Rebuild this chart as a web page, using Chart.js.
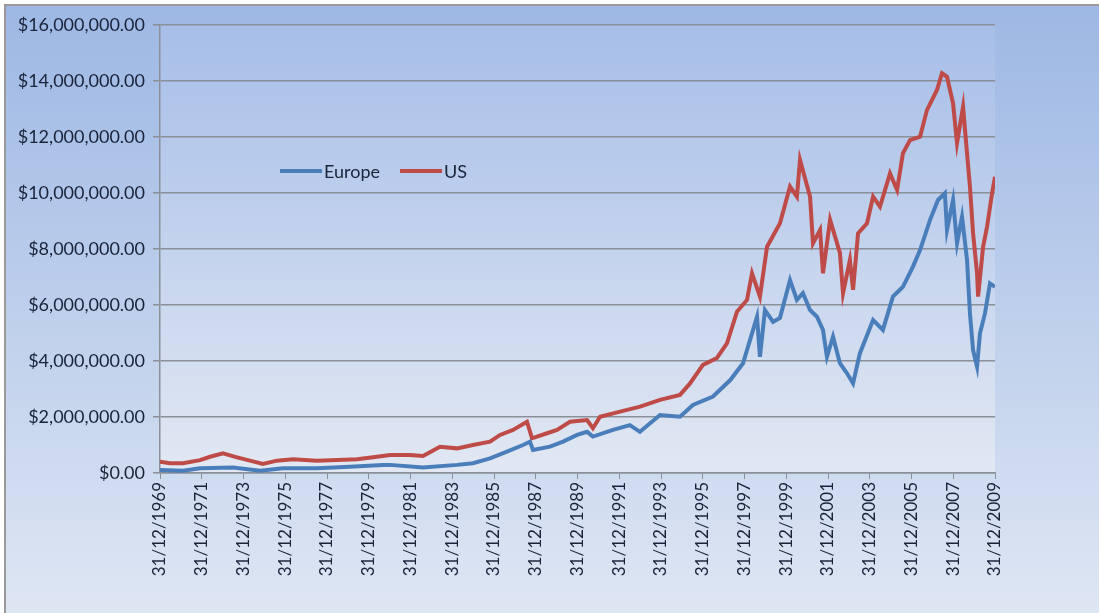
<!DOCTYPE html>
<html>
<head>
<meta charset="utf-8">
<script src="https://cdn.jsdelivr.net/npm/chart.js@4.4.1/dist/chart.umd.min.js"></script>
<style>
  html, body { margin: 0; padding: 0; background: #ffffff; overflow: hidden; }
  #frame {
    position: absolute; left: 4px; top: 4px;
    width: 1093px; height: 607px;
    border-left: 2px solid #9a9a9a; border-top: 2px solid #9a9a9a;
  }
</style>
</head>
<body>
<div id="frame"><canvas id="growthChart" width="1093" height="607"></canvas></div>
<script>
// values, in dollars; x is a decimal year
const usYears = [1970.00, 1970.48, 1971.10, 1971.92, 1972.40, 1973.02, 1973.69, 1974.31, 1974.93, 1975.60,
  1976.37, 1977.52, 1978.48, 1979.44, 1980.40, 1981.02, 1981.98, 1982.60, 1983.41, 1984.23,
  1984.99, 1985.81, 1986.29, 1986.91, 1987.58, 1987.82, 1988.54, 1989.02, 1989.64, 1990.46,
  1990.74, 1991.08, 1992.04, 1993.00, 1993.95, 1994.91, 1995.39, 1996.01, 1996.68, 1997.16,
  1997.64, 1998.12, 1998.36, 1998.74, 1999.08, 1999.70, 2000.18, 2000.51, 2000.66, 2001.14,
  2001.28, 2001.62, 2001.76, 2002.10, 2002.57, 2002.72, 2003.05, 2003.20, 2003.44, 2003.87,
  2004.16, 2004.49, 2004.97, 2005.31, 2005.59, 2005.93, 2006.41, 2006.74, 2007.22, 2007.46,
  2007.70, 2007.99, 2008.18, 2008.47, 2008.66, 2008.80, 2008.95, 2009.14, 2009.19, 2009.43,
  2009.62, 2009.86, 2010.00];
const usValues = [400000, 350000, 350000, 460000, 580000, 700000, 560000, 440000, 320000, 440000,
  490000, 440000, 460000, 490000, 580000, 640000, 640000, 610000, 940000, 880000,
  1000000, 1120000, 1360000, 1540000, 1830000, 1240000, 1420000, 1540000, 1830000, 1890000,
  1600000, 2010000, 2190000, 2370000, 2610000, 2790000, 3200000, 3860000, 4110000, 4630000,
  5760000, 6180000, 7130000, 6300000, 8080000, 8920000, 10230000, 9870000, 11180000, 9870000,
  8200000, 8680000, 7130000, 9040000, 7860000, 6420000, 7610000, 6540000, 8560000, 8920000,
  9870000, 9510000, 10700000, 10110000, 11420000, 11890000, 12010000, 12960000, 13680000, 14280000,
  14150000, 13200000, 11780000, 13080000, 11420000, 10230000, 8560000, 7130000, 6300000, 8080000,
  8800000, 9990000, 10580000];

const euYears = [1970.00, 1971.10, 1971.92, 1973.50, 1974.79, 1975.89, 1977.52, 1979.10, 1980.68, 1981.02,
  1982.60, 1984.23, 1984.99, 1985.81, 1986.62, 1987.39, 1987.72, 1987.87, 1988.68, 1989.31,
  1989.98, 1990.46, 1990.74, 1991.70, 1992.51, 1992.99, 1993.95, 1994.91, 1995.53, 1996.49,
  1997.32, 1997.93, 1998.41, 1998.60, 1998.74, 1998.98, 1999.37, 1999.70, 2000.18, 2000.51,
  2000.80, 2001.14, 2001.47, 2001.76, 2001.95, 2002.24, 2002.57, 2002.91, 2003.20, 2003.53,
  2004.16, 2004.63, 2005.11, 2005.59, 2006.07, 2006.41, 2006.89, 2007.27, 2007.60, 2007.70,
  2007.99, 2008.18, 2008.42, 2008.66, 2008.80, 2008.95, 2009.14, 2009.28, 2009.52, 2009.76,
  2010.00];
const euValues = [110000, 80000, 170000, 200000, 80000, 170000, 170000, 220000, 290000, 290000,
  200000, 290000, 350000, 520000, 760000, 1000000, 1120000, 820000, 940000, 1120000,
  1360000, 1470000, 1300000, 1540000, 1710000, 1470000, 2070000, 2010000, 2430000, 2730000,
  3320000, 3920000, 5110000, 5580000, 4150000, 5820000, 5400000, 5540000, 6890000, 6180000,
  6420000, 5820000, 5580000, 5110000, 4150000, 4870000, 3920000, 3560000, 3200000, 4280000,
  5460000, 5110000, 6300000, 6650000, 7370000, 7960000, 9040000, 9750000, 9990000, 8680000,
  9750000, 8200000, 9150000, 7610000, 5700000, 4390000, 3800000, 4990000, 5700000, 6770000,
  6650000];

const xTickLabels = ['31/12/1969', '31/12/1971', '31/12/1973', '31/12/1975', '31/12/1977', '31/12/1979',
  '31/12/1981', '31/12/1983', '31/12/1985', '31/12/1987', '31/12/1989', '31/12/1991', '31/12/1993',
  '31/12/1995', '31/12/1997', '31/12/1999', '31/12/2001', '31/12/2003', '31/12/2005', '31/12/2007',
  '31/12/2009'];

const euColor = '#4a7ebb';
const usColor = '#be4b48';
const textColor = '#18233a';

function toPoints(xs, ys) {
  return xs.map((x, i) => ({ x: x, y: ys[i] }));
}

// gradients for the whole picture and the plot area
const backdrop = {
  id: 'backdrop',
  beforeDraw(chart) {
    const ctx = chart.ctx;
    const a = chart.chartArea;
    ctx.save();
    let g = ctx.createLinearGradient(0, 0, 0, chart.height);
    g.addColorStop(0, '#9db8e4');
    g.addColorStop(1, '#dee6f3');
    ctx.fillStyle = g;
    ctx.fillRect(0, 0, chart.width, chart.height);
    g = ctx.createLinearGradient(0, a.top, 0, a.bottom);
    g.addColorStop(0, '#a6bee8');
    g.addColorStop(1, '#e2e8f3');
    ctx.fillStyle = g;
    ctx.fillRect(a.left, a.top, a.right - a.left, a.bottom - a.top);
    ctx.restore();
  }
};

// legend sits inside the plot, like the original
const innerLegend = {
  id: 'innerLegend',
  afterDatasetsDraw(chart) {
    const ctx = chart.ctx;
    let x = 274;
    const y = 165;
    ctx.save();
    ctx.font = '18px Lato, "Open Sans", sans-serif';
    ctx.textBaseline = 'middle';
    chart.data.datasets.forEach(ds => {
      ctx.strokeStyle = ds.borderColor;
      ctx.lineWidth = 4;
      ctx.beginPath();
      ctx.moveTo(x, y);
      ctx.lineTo(x + 42, y);
      ctx.stroke();
      x += 44;
      ctx.fillStyle = textColor;
      ctx.fillText(ds.label, x, y + 1);
      x += ctx.measureText(ds.label).width + 20;
    });
    ctx.restore();
  }
};

const ctx = document.getElementById('growthChart').getContext('2d');
const growthChart = new Chart(ctx, {
  type: 'line',
  data: {
    datasets: [{
      label: 'Europe',
      data: toPoints(euYears, euValues),
      borderColor: euColor,
      borderWidth: 4,
      pointRadius: 0,
      tension: 0
    }, {
      label: 'US',
      data: toPoints(usYears, usValues),
      borderColor: usColor,
      borderWidth: 4,
      pointRadius: 0,
      tension: 0
    }]
  },
  options: {
    responsive: false,
    animation: false,
    layout: { padding: { left: 0, right: 104, top: 19, bottom: 0 } },
    plugins: {
      legend: { display: false },
      tooltip: { enabled: false }
    },
    scales: {
      x: {
        type: 'linear',
        min: 1970,
        max: 2010,
        afterFit: s => { s.height = 140; },
        afterBuildTicks: s => { s.ticks = xTickLabels.map((t, i) => ({ value: 1970 + 2 * i })); },
        ticks: {
          autoSkip: false,
          maxRotation: 90,
          minRotation: 90,
          padding: 3,
          color: textColor,
          font: { family: 'Lato, "Open Sans", sans-serif', size: 17 },
          callback: (v, i) => xTickLabels[i]
        },
        grid: { display: true, drawOnChartArea: false, color: '#8a8f98', tickLength: 6, lineWidth: 1 },
        border: { color: '#8a8f98', width: 1.5 }
      },
      y: {
        min: 0,
        max: 16000000,
        afterFit: s => { s.width = 154; },
        ticks: {
          stepSize: 2000000,
          padding: 8,
          color: textColor,
          font: { family: 'Lato, "Open Sans", sans-serif', size: 18 },
          callback: v => '$' + v.toLocaleString('en-US', { minimumFractionDigits: 2, maximumFractionDigits: 2 })
        },
        grid: { color: '#8a8f98', lineWidth: 1.5, tickLength: 7 },
        border: { color: '#8a8f98', width: 1.5 }
      }
    }
  },
  plugins: [backdrop, innerLegend]
});
</script>
</body>
</html>
